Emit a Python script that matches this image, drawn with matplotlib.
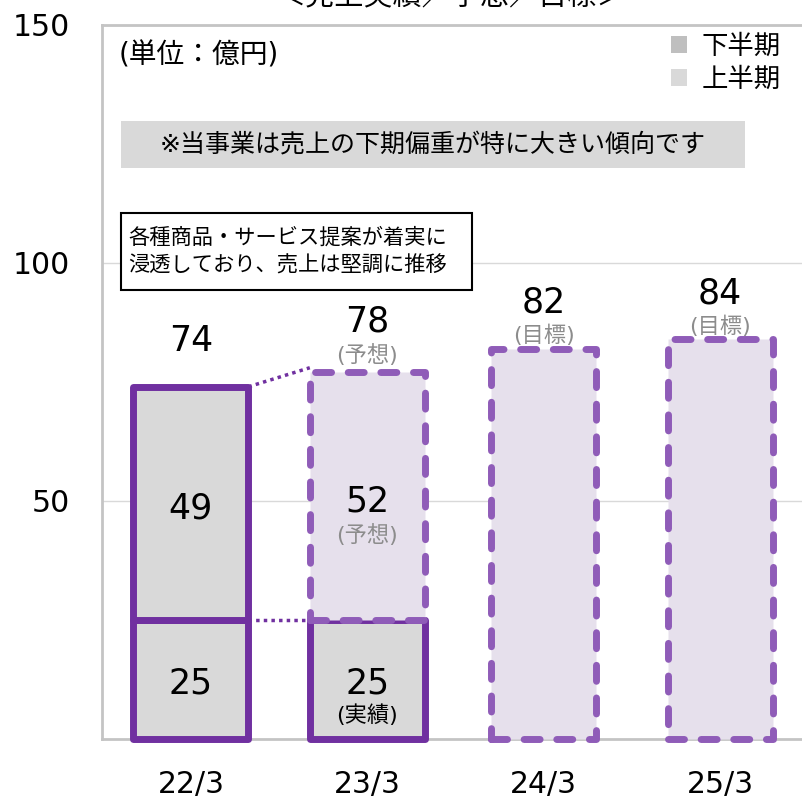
import matplotlib
matplotlib.use("Agg")
import matplotlib.pyplot as plt
from matplotlib.patches import Patch, Rectangle

# 数字・括弧は DejaVu Sans、和文は Noto Sans CJK JP
plt.rcParams["font.family"] = ["DejaVu Sans", "Noto Sans CJK JP"]

# 売上（億円）: 上半期 / 下半期 の内訳と通期
PERIODS = ["22/3", "23/3", "24/3", "25/3"]
FIRST_HALF = [25, 25]          # 上半期
SECOND_HALF = [49, 52]         # 下半期
FIRST_IS_ACTUAL = [True, True]
SECOND_IS_ACTUAL = [True, False]
TOTALS = [74, 78, 82, 84]
TOTAL_NOTES = ["", "(予想)", "(目標)", "(目標)"]
FIRST_NOTES = ["", "(実績)"]
SECOND_NOTES = ["", "(予想)"]
Y_TICKS = [50, 100, 150]

TITLE = "＜売上実績／予想／目標＞"
UNIT = "(単位：億円)"
NOTE = "※当事業は売上の下期偏重が特に大きい傾向です"
COMMENT = "各種商品・サービス提案が着実に\n浸透しており、売上は堅調に推移"

PURPLE = "#7030A0"
PURPLE_DASH = "#8F5CB8"
GRAY_FILL = "#D9D9D9"
LAVENDER = "#E6E0EC"
AXIS_GRAY = "#C4C4C4"
NOTE_GRAY = "#8C8C8C"

W_ACTUAL = 0.652
W_TARGET = 0.595


def draw_segment(ax, x, bottom, height, width, actual):
    if actual:
        style = dict(facecolor=GRAY_FILL, edgecolor=PURPLE, linewidth=5,
                     joinstyle="round")
    else:
        style = dict(facecolor=LAVENDER, edgecolor=PURPLE_DASH, linewidth=5,
                     linestyle=(0, (2.3, 2.4)), capstyle="round",
                     joinstyle="round")
    ax.bar(x, height, bottom=bottom, width=width, clip_on=False, zorder=3,
           **style)


def label(ax, x, y, text, dy, size, color="black"):
    ax.annotate(text, (x, y), xytext=(0, dy), textcoords="offset points",
                ha="center", va="center", fontsize=size, color=color,
                zorder=6)


fig = plt.figure(figsize=(8.02, 8.01), dpi=100)
ax = fig.add_axes([102 / 802, 1 - 739 / 801, 1 - 102 / 802, 714 / 801])
ax.set_xlim(-0.504, 3.464)
ax.set_ylim(0, 150)

# 実績 / 予想 の内訳（22/3, 23/3）
for i in range(len(FIRST_HALF)):
    draw_segment(ax, i, 0, FIRST_HALF[i], W_ACTUAL, FIRST_IS_ACTUAL[i])
    draw_segment(ax, i, FIRST_HALF[i], SECOND_HALF[i], W_ACTUAL,
                 SECOND_IS_ACTUAL[i])
    mid1 = FIRST_HALF[i] / 2
    mid2 = FIRST_HALF[i] + SECOND_HALF[i] / 2
    label(ax, i, mid1, str(FIRST_HALF[i]), -3, 25)
    label(ax, i, mid2, str(SECOND_HALF[i]), -4, 25)
    if FIRST_NOTES[i]:
        label(ax, i, mid1, FIRST_NOTES[i], -26, 16)
    if SECOND_NOTES[i]:
        label(ax, i, mid2, SECOND_NOTES[i], -28, 16, NOTE_GRAY)

# 目標（24/3, 25/3）は通期のみ
for i in range(len(FIRST_HALF), len(PERIODS)):
    draw_segment(ax, i, 0, TOTALS[i], W_TARGET, False)

for i, (total, note) in enumerate(zip(TOTALS, TOTAL_NOTES)):
    label(ax, i, total, str(total), 33, 25)
    if note:
        label(ax, i, total, note, 9.5, 16, NOTE_GRAY)

# 22/3 → 23/3 の点線
ax.plot([W_ACTUAL / 2, 1 - W_ACTUAL / 2], [TOTALS[0], TOTALS[1]],
        color=PURPLE, linewidth=2.5, linestyle=(0, (1, 1.2)), zorder=2)
ax.plot([W_ACTUAL / 2, 1 - W_ACTUAL / 2], [FIRST_HALF[0], FIRST_HALF[1]],
        color=PURPLE, linewidth=2.5, linestyle=(0, (1, 1.2)), zorder=2)

# 軸・目盛
ax.set_yticks(Y_TICKS)
ax.set_xticks(range(len(PERIODS)))
ax.set_xticklabels(PERIODS)
ax.tick_params(axis="both", length=0, labelsize=21.5)
ax.tick_params(axis="y", pad=23)
ax.tick_params(axis="x", pad=22)
ax.yaxis.grid(True, color="#D9D9D9", linewidth=1)
ax.set_axisbelow(True)
for side in ("top", "left", "bottom"):
    ax.spines[side].set_color(AXIS_GRAY)
    ax.spines[side].set_linewidth(2)
ax.spines["right"].set_visible(False)

# 注記
ax.text(-0.41, 143.5, UNIT, ha="left", va="center", fontsize=20)
ax.add_patch(Rectangle((-0.398, 120.0), 3.54, 9.9, facecolor=GRAY_FILL,
                       edgecolor="none", zorder=4))
ax.text(1.372, 125.0, NOTE, ha="center", va="center", fontsize=18, zorder=5)
ax.add_patch(Rectangle((-0.398, 94.3), 1.99, 16.2, facecolor="white",
                       edgecolor="black", linewidth=1.5, zorder=4))
ax.text(-0.355, 102.4, COMMENT, ha="left", va="center", fontsize=15.3,
        linespacing=1.45, zorder=5)

handles = [Patch(facecolor="#BFBFBF", label="下半期"),
           Patch(facecolor=GRAY_FILL, label="上半期")]
ax.legend(handles=handles, loc="upper left",
          bbox_to_anchor=(671 / 802, 1 - 34 / 801),
          bbox_transform=fig.transFigure, frameon=False, fontsize=19,
          handlelength=0.62, handleheight=0.62, handletextpad=0.55,
          labelspacing=0.25, borderpad=0, borderaxespad=0)

fig.text(452 / 802, 1 + 3 / 801, TITLE, ha="center", va="center",
         fontsize=21)

fig.savefig("out.png", dpi=100)
